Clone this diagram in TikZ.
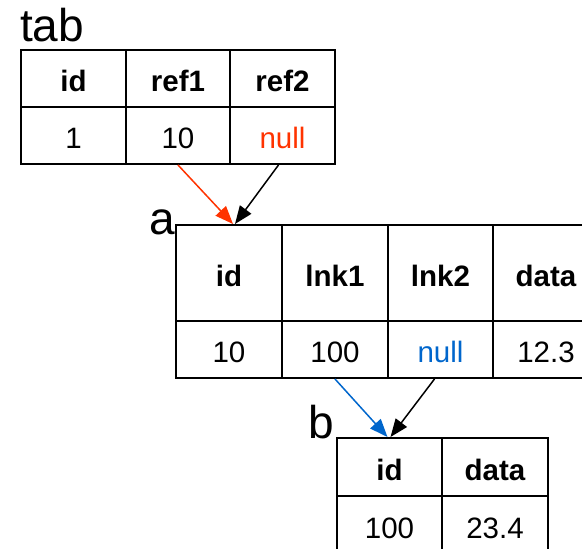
\documentclass[tikz,border=0pt]{standalone}
\usepackage{fontspec}
\setmainfont{Liberation Sans}
\usetikzlibrary{arrows.meta}
\definecolor{refred}{RGB}{255,51,0}
\definecolor{lnkblue}{RGB}{0,102,204}
\begin{document}
\begin{tikzpicture}[x=1pt,y=-1pt,
  cell/.style={draw, line width=2pt, inner sep=0pt, text height=26pt, text depth=0pt,
    font=\fontsize{29.5}{29.5}\selectfont},
  hd/.style={cell, font=\fontsize{29.5}{29.5}\selectfont\bfseries},
  tname/.style={anchor=base west, inner sep=0pt, font=\fontsize{46}{46}\selectfont},
  ptr/.style={line width=1.5pt, -{Triangle[length=18pt,width=14pt]}}]
\useasboundingbox (0,0) rectangle (582,549);
\clip (0,0) rectangle (582,549);
% table tab
\node[tname] (ntab) at (20,41) {tab};
\node[hd, minimum width=105pt, minimum height=57pt] (tid) at (73.5,78.5) {id};
\node[hd, minimum width=104pt, minimum height=57pt] (tr1h) at (178,78.5) {ref1};
\node[hd, minimum width=105pt, minimum height=57pt] (tr2h) at (282.5,78.5) {ref2};
\node[cell, minimum width=105pt, minimum height=57pt] (tidv) at (73.5,135.5) {1};
\node[cell, minimum width=104pt, minimum height=57pt] (tr1) at (178,135.5) {10};
\node[cell, minimum width=105pt, minimum height=57pt, text=refred] (tr2) at (282.5,135.5) {null};
% table a
\node[tname] (na) at (149,234) {a};
\node[hd, minimum width=106pt, minimum height=96pt] (aidh) at (229,273) {id};
\node[hd, minimum width=106pt, minimum height=96pt] (al1h) at (335,273) {lnk1};
\node[hd, minimum width=105pt, minimum height=96pt] (al2h) at (440.5,273) {lnk2};
\node[hd, minimum width=106pt, minimum height=96pt] (adh) at (546,273) {data};
\node[cell, minimum width=106pt, minimum height=57pt] (aid) at (229,349.5) {10};
\node[cell, minimum width=106pt, minimum height=57pt] (al1) at (335,349.5) {100};
\node[cell, minimum width=105pt, minimum height=57pt, text=lnkblue] (al2) at (440.5,349.5) {null};
\node[cell, minimum width=106pt, minimum height=57pt] (ad) at (546,349.5) {12.3};
% table b
\node[tname] (nb) at (308,438) {b};
\node[hd, minimum width=105pt, minimum height=58pt] (bidh) at (389.5,467) {id};
\node[hd, minimum width=106pt, minimum height=58pt] (bdh) at (495,467) {data};
\node[cell, minimum width=105pt, minimum height=58pt] (bid) at (389.5,525) {100};
\node[cell, minimum width=106pt, minimum height=58pt] (bd) at (495,525) {23.4};
% pointers
\draw[ptr, refred] (tr1.south) -- ([xshift=4pt]aidh.north);
\draw[ptr] ([xshift=-4pt]tr2.south) -- ([xshift=6pt]aidh.north);
\draw[ptr, lnkblue] (al1.south) -- ([xshift=-2pt]bidh.north);
\draw[ptr] ([xshift=-6pt]al2.south) -- ([xshift=1pt]bidh.north);
\end{tikzpicture}
\end{document}
